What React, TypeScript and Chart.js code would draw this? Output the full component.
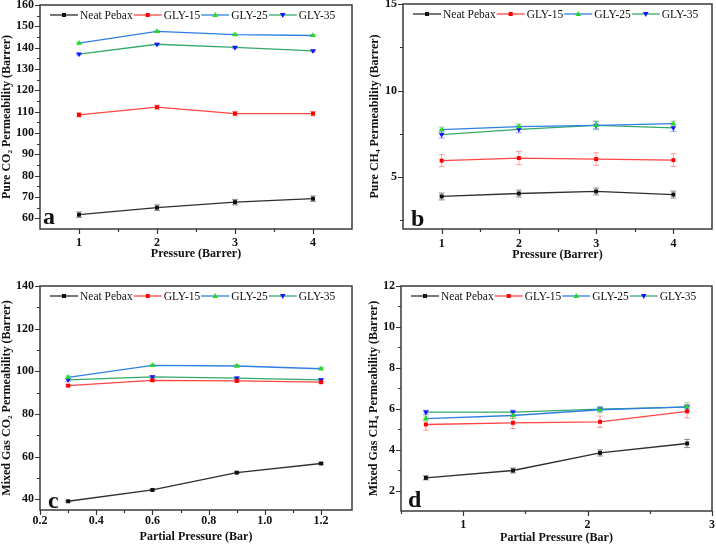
import React, { useEffect, useRef } from "react";
import { Chart, registerables } from "chart.js";

Chart.register(...registerables);

const FONT = '"Liberation Serif", "Times New Roman", serif';

// ---------- shared ----------
const seriesNames = ["Neat Pebax", "GLY-15", "GLY-25", "GLY-35"];
const lineColors = ["#2e2e2e", "#ff4545", "#2f7fe3", "#33aa6a"];
const markerColors = ["#111111", "#ff0000", "#20dd20", "#1414ff"];
const errColors = ["rgba(70,70,70,0.6)", "rgba(255,70,70,0.5)", "rgba(60,180,60,0.5)", "rgba(40,40,255,0.45)"];
const markerStyles = ["rect", "rect", "triangle", "triangle"];
const markerRotations = [0, 0, 0, 180];

// ---------- panel a : pure CO2 ----------
const pressureA = [1, 2, 3, 4];
const aNeat = [61.7, 65.0, 67.6, 69.2];
const aGly15 = [108.5, 112.1, 109.1, 109.1];
const aGly25 = [142.1, 147.6, 146.1, 145.7];
const aGly35 = [137.0, 141.6, 140.1, 138.5];
const aNeatErr = [1.3, 1.3, 1.3, 1.3];
const aGly15Err = [1.0, 1.0, 1.0, 1.0];
const aGly25Err = [0.4, 0.4, 0.4, 0.4];
const aGly35Err = [0.4, 0.4, 0.4, 0.4];
const aXTicks = [1, 2, 3, 4];
const aXLabels = ["1", "2", "3", "4"];
const aXMinor = [1.5, 2.5, 3.5];
const aYTicks = [60, 70, 80, 90, 100, 110, 120, 130, 140, 150, 160];
const aYLabels = ["60", "70", "80", "90", "100", "110", "120", "130", "140", "150", "160"];
const aYMinor = [65, 75, 85, 95, 105, 115, 125, 135, 145, 155];

// ---------- panel b : pure CH4 ----------
const pressureB = [1, 2, 3, 4];
const bNeat = [3.88, 4.05, 4.17, 3.99];
const bGly15 = [5.95, 6.1, 6.04, 5.98];
const bGly25 = [7.74, 7.92, 7.99, 8.09];
const bGly35 = [7.45, 7.76, 7.99, 7.84];
const bNeatErr = [0.2, 0.2, 0.2, 0.2];
const bGly15Err = [0.35, 0.38, 0.36, 0.36];
const bGly25Err = [0.15, 0.15, 0.25, 0.15];
const bGly35Err = [0.2, 0.2, 0.2, 0.2];
const bXTicks = [1, 2, 3, 4];
const bXLabels = ["1", "2", "3", "4"];
const bXMinor = [1.5, 2.5, 3.5];
const bYTicks = [5, 10, 15];
const bYLabels = ["5", "10", "15"];
const bYMinor = [2.5, 7.5, 12.5];

// ---------- panel c : mixed gas CO2 ----------
const partialC = [0.3, 0.6, 0.9, 1.2];
const cNeat = [39.1, 44.4, 52.5, 56.8];
const cGly15 = [93.3, 95.8, 95.5, 94.9];
const cGly25 = [97.2, 102.8, 102.5, 101.2];
const cGly35 = [96.0, 97.4, 96.8, 96.0];
const cNeatErr = [0.4, 0.4, 0.4, 0.4];
const cGly15Err = [0.5, 0.5, 0.5, 0.5];
const cGly25Err = [0.6, 0.6, 0.6, 0.6];
const cGly35Err = [0.6, 0.6, 0.6, 0.6];
const cXTicks = [0.2, 0.4, 0.6, 0.8, 1.0, 1.2];
const cXLabels = ["0.2", "0.4", "0.6", "0.8", "1.0", "1.2"];
const cXMinor = [0.3, 0.5, 0.7, 0.9, 1.1];
const cYTicks = [40, 60, 80, 100, 120, 140];
const cYLabels = ["40", "60", "80", "100", "120", "140"];
const cYMinor = [50, 70, 90, 110, 130];

// ---------- panel d : mixed gas CH4 ----------
const partialD = [0.7, 1.4, 2.1, 2.8];
const dNeat = [2.62, 2.98, 3.84, 4.3];
const dGly15 = [5.23, 5.31, 5.36, 5.87];
const dGly25 = [5.52, 5.67, 5.95, 6.09];
const dGly35 = [5.83, 5.83, 5.98, 6.08];
const dNeatErr = [0.1, 0.12, 0.15, 0.2];
const dGly15Err = [0.28, 0.28, 0.28, 0.32];
const dGly25Err = [0.12, 0.15, 0.15, 0.2];
const dGly35Err = [0.1, 0.1, 0.1, 0.1];
const dXTicks = [1, 2, 3];
const dXLabels = ["1", "2", "3"];
const dXMinor = [0.5, 1.5, 2.5];
const dYTicks = [2, 4, 6, 8, 10, 12];
const dYLabels = ["2", "4", "6", "8", "10", "12"];
const dYMinor = [3, 5, 7, 9, 11];

type Panel = {
  letter: string;
  x: number[];
  series: number[][];
  errors: number[][];
  xMin: number; xMax: number; yMin: number; yMax: number;
  xTicks: number[]; xLabels: string[]; xMinor: number[];
  yTicks: number[]; yLabels: string[]; yMinor: number[];
  xTitle: string; yTitle: string;
  area: { l: number; t: number; r: number; b: number };
  yTitleX: number; xTickOff: number; xTitleOff: number;
  letterDx: number; letterDy: number;
};

const PW = 358;
const PH = 272;

const panels: Panel[] = [
  {
    letter: "a", x: pressureA,
    series: [aNeat, aGly15, aGly25, aGly35],
    errors: [aNeatErr, aGly15Err, aGly25Err, aGly35Err],
    xMin: 0.5, xMax: 4.5, yMin: 55, yMax: 160,
    xTicks: aXTicks, xLabels: aXLabels, xMinor: aXMinor,
    yTicks: aYTicks, yLabels: aYLabels, yMinor: aYMinor,
    xTitle: "Pressure (Barrer)", yTitle: "Pure CO\u2082 Permeability (Barrer)",
    area: { l: 40, t: 5, r: 352, b: 229 },
    yTitleX: 7, xTickOff: 14, xTitleOff: 25, letterDx: 3, letterDy: 5,
  },
  {
    letter: "b", x: pressureB,
    series: [bNeat, bGly15, bGly25, bGly35],
    errors: [bNeatErr, bGly15Err, bGly25Err, bGly35Err],
    xMin: 0.5, xMax: 4.5, yMin: 2, yMax: 15,
    xTicks: bXTicks, xLabels: bXLabels, xMinor: bXMinor,
    yTicks: bYTicks, yLabels: bYLabels, yMinor: bYMinor,
    xTitle: "Pressure (Barrer)", yTitle: "Pure CH\u2084 Permeability (Barrer)",
    area: { l: 45, t: 4, r: 356, b: 229 },
    yTitleX: 17, xTickOff: 15, xTitleOff: 26, letterDx: 8, letterDy: 3,
  },
  {
    letter: "c", x: partialC,
    series: [cNeat, cGly15, cGly25, cGly35],
    errors: [cNeatErr, cGly15Err, cGly25Err, cGly35Err],
    xMin: 0.2, xMax: 1.31, yMin: 35, yMax: 140,
    xTicks: cXTicks, xLabels: cXLabels, xMinor: cXMinor,
    yTicks: cYTicks, yLabels: cYLabels, yMinor: cYMinor,
    xTitle: "Partial Pressure (Bar)", yTitle: "Mixed Gas CO\u2082 Permeability (Barrer)",
    area: { l: 40, t: 14, r: 352, b: 238 },
    yTitleX: 7, xTickOff: 11, xTitleOff: 27, letterDx: 8, letterDy: 2,
  },
  {
    letter: "d", x: partialD,
    series: [dNeat, dGly15, dGly25, dGly35],
    errors: [dNeatErr, dGly15Err, dGly25Err, dGly35Err],
    xMin: 0.5, xMax: 3, yMin: 1, yMax: 12,
    xTicks: dXTicks, xLabels: dXLabels, xMinor: dXMinor,
    yTicks: dYTicks, yLabels: dYLabels, yMinor: dYMinor,
    xTitle: "Partial Pressure (Bar)", yTitle: "Mixed Gas CH\u2084 Permeability (Barrer)",
    area: { l: 43, t: 14, r: 356, b: 239 },
    yTitleX: 16, xTickOff: 13.5, xTitleOff: 27, letterDx: 7, letterDy: 4,
  },
];

function drawMarker(ctx: CanvasRenderingContext2D, style: string, rot: number, x: number, y: number, color: string) {
  ctx.save();
  ctx.fillStyle = color;
  ctx.beginPath();
  if (style === "rect") {
    ctx.rect(x - 2, y - 2, 4, 4);
  } else {
    const s = rot === 180 ? -1 : 1;
    ctx.moveTo(x, y - 3 * s);
    ctx.lineTo(x + 2.8, y + 2 * s);
    ctx.lineTo(x - 2.8, y + 2 * s);
    ctx.closePath();
  }
  ctx.fill();
  ctx.restore();
}

const decorPlugin = {
  id: "decor",
  beforeDatasetsDraw(chart: any) {
    const ctx = chart.ctx;
    const xs = chart.scales.x;
    const ys = chart.scales.y;
    chart.data.datasets.forEach((ds: any) => {
      const errs: number[] = ds.errors || [];
      ctx.save();
      ctx.strokeStyle = ds.errColor;
      ctx.lineWidth = 1;
      ds.data.forEach((p: any, j: number) => {
        const e = errs[j];
        if (!e) return;
        const px = xs.getPixelForValue(p.x);
        const y1 = ys.getPixelForValue(p.y - e);
        const y2 = ys.getPixelForValue(p.y + e);
        ctx.beginPath();
        ctx.moveTo(px, y1);
        ctx.lineTo(px, y2);
        ctx.moveTo(px - 3, y1);
        ctx.lineTo(px + 3, y1);
        ctx.moveTo(px - 3, y2);
        ctx.lineTo(px + 3, y2);
        ctx.stroke();
      });
      ctx.restore();
    });
  },
  afterDraw(chart: any, _args: any, opts: any) {
    const ctx: CanvasRenderingContext2D = chart.ctx;
    const ca = chart.chartArea;
    const xs = chart.scales.x;
    const ys = chart.scales.y;
    const p: Panel = opts.panel;
    ctx.save();
    // ticks
    ctx.strokeStyle = "#333";
    ctx.lineWidth = 1.2;
    ctx.beginPath();
    p.yTicks.forEach((v) => {
      const py = Math.round(ys.getPixelForValue(v)) + 0.5;
      ctx.moveTo(ca.left - 5, py);
      ctx.lineTo(ca.left, py);
    });
    p.yMinor.forEach((v) => {
      const py = Math.round(ys.getPixelForValue(v)) + 0.5;
      ctx.moveTo(ca.left - 3, py);
      ctx.lineTo(ca.left, py);
    });
    p.xTicks.forEach((v) => {
      const px = Math.round(xs.getPixelForValue(v)) + 0.5;
      ctx.moveTo(px, ca.bottom);
      ctx.lineTo(px, ca.bottom + 5);
    });
    p.xMinor.forEach((v) => {
      const px = Math.round(xs.getPixelForValue(v)) + 0.5;
      ctx.moveTo(px, ca.bottom);
      ctx.lineTo(px, ca.bottom + 3);
    });
    ctx.stroke();
    // frame
    ctx.strokeStyle = "#3a3a3a";
    ctx.lineWidth = 1.5;
    ctx.strokeRect(ca.left, ca.top, ca.right - ca.left, ca.bottom - ca.top);

    // legend
    let lx = ca.left + 10;
    const ly = ca.top + 10;
    ctx.font = "11.5px " + FONT;
    ctx.textBaseline = "middle";
    ctx.textAlign = "left";
    chart.data.datasets.forEach((ds: any, k: number) => {
      ctx.strokeStyle = ds.borderColor;
      ctx.lineWidth = 1.3;
      ctx.beginPath();
      ctx.moveTo(lx, ly);
      ctx.lineTo(lx + 28, ly);
      ctx.stroke();
      drawMarker(ctx, markerStyles[k], markerRotations[k], lx + 14, ly, markerColors[k]);
      lx += 30;
      ctx.fillStyle = "#111";
      ctx.fillText(ds.label, lx, ly + 0.5);
      lx += ctx.measureText(ds.label).width + 1;
    });

    // panel letter
    ctx.font = "bold 24px " + FONT;
    ctx.textBaseline = "alphabetic";
    ctx.fillStyle = "#111";
    ctx.fillText(p.letter, ca.left + p.letterDx, ca.bottom - p.letterDy);
    ctx.restore();
  },
};

function PanelChart({ panel, left, top }: { panel: Panel; left: number; top: number }) {
  const ref = useRef<HTMLCanvasElement | null>(null);
  useEffect(() => {
    if (!ref.current) return;
    const p = panel;
    const titleLH = 12 * 1.2;
    const padLeft = Math.max(0, p.yTitleX - titleLH / 2);
    const yAxisW = p.area.l - padLeft;
    const xAxisH = p.xTitleOff + titleLH / 2;
    const padBottom = PH - p.area.b - xAxisH;
    const datasets = p.series.map((vals, k) => ({
      label: seriesNames[k],
      data: p.x.map((xv, j) => ({ x: xv, y: vals[j] })),
      borderColor: lineColors[k],
      backgroundColor: markerColors[k],
      pointBackgroundColor: markerColors[k],
      pointBorderColor: markerColors[k],
      pointBorderWidth: 0,
      pointStyle: markerStyles[k],
      pointRotation: markerRotations[k],
      pointRadius: markerStyles[k] === "rect" ? 2.8 : 3.2,
      borderWidth: 1.3,
      tension: 0,
      fill: false,
      errors: p.errors[k],
      errColor: errColors[k],
    }));
    const tickFont = { family: FONT, size: 12, weight: "bold" as const };
    const chart = new Chart(ref.current, {
      type: "line",
      data: { datasets } as any,
      plugins: [decorPlugin as any],
      options: {
        responsive: false,
        animation: false,
        devicePixelRatio: 1,
        layout: { padding: { left: padLeft, top: p.area.t, right: PW - p.area.r, bottom: padBottom } },
        plugins: {
          legend: { display: false },
          tooltip: { enabled: false },
          decor: { panel: p },
        } as any,
        scales: {
          x: {
            type: "linear",
            min: p.xMin,
            max: p.xMax,
            grid: { display: false, drawTicks: false },
            border: { display: false },
            afterBuildTicks: (ax: any) => {
              ax.ticks = p.xTicks.map((v) => ({ value: v }));
            },
            afterFit: (ax: any) => {
              ax.height = xAxisH;
              ax.paddingLeft = 0;
              ax.paddingRight = 0;
              ax.paddingTop = 0;
              ax.paddingBottom = 0;
            },
            ticks: {
              padding: p.xTickOff - titleLH / 2,
              font: tickFont,
              color: "#111",
              maxRotation: 0,
              autoSkip: false,
              callback: (_v: any, i: number) => p.xLabels[i],
            },
            title: { display: true, text: p.xTitle, font: tickFont, color: "#111", padding: 0 },
          },
          y: {
            type: "linear",
            min: p.yMin,
            max: p.yMax,
            grid: { display: false, drawTicks: false },
            border: { display: false },
            afterBuildTicks: (ax: any) => {
              ax.ticks = p.yTicks.map((v) => ({ value: v }));
            },
            afterFit: (ax: any) => {
              ax.width = yAxisW;
              ax.paddingLeft = 0;
              ax.paddingRight = 0;
              ax.paddingTop = 0;
              ax.paddingBottom = 0;
            },
            ticks: {
              padding: 6,
              font: tickFont,
              color: "#111",
              autoSkip: false,
              callback: (_v: any, i: number) => p.yLabels[i],
            },
            title: { display: true, text: p.yTitle, font: tickFont, color: "#111", padding: 0 },
          },
        },
      } as any,
    });
    return () => chart.destroy();
  }, [panel]);
  return (
    <div style={{ position: "absolute", left, top, width: PW, height: PH }}>
      <canvas ref={ref} width={PW} height={PH} style={{ display: "block", width: PW, height: PH }} />
    </div>
  );
}

export default function App() {
  return (
    <div style={{ position: "fixed", left: 0, top: 0, width: 716, height: 544, background: "#fff" }}>
      {panels.map((p, i) => (
        <PanelChart key={p.letter} panel={p} left={(i % 2) * PW} top={Math.floor(i / 2) * PH} />
      ))}
    </div>
  );
}
